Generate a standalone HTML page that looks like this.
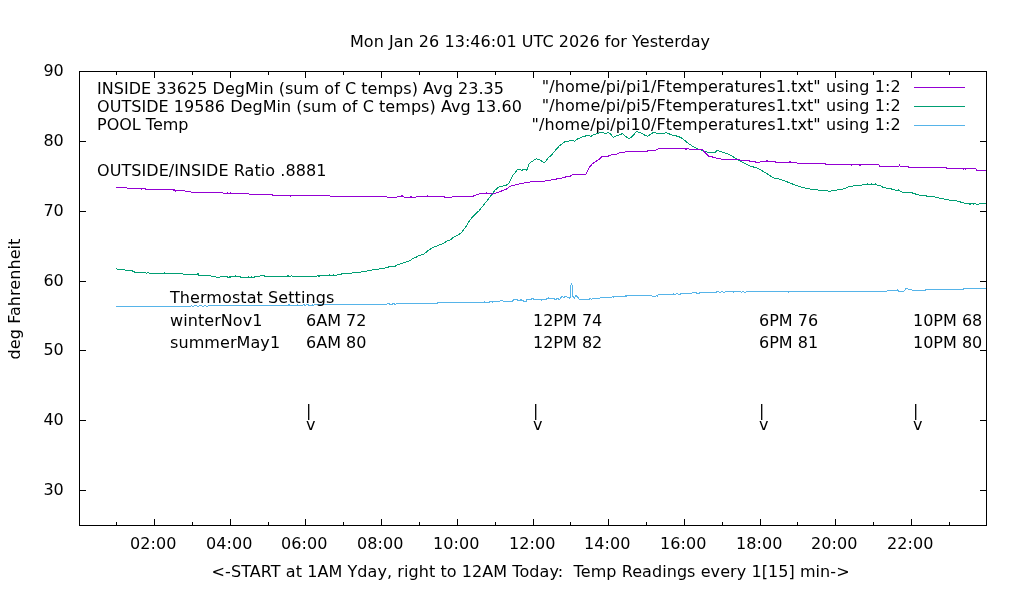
<!DOCTYPE html><html><head><meta charset="utf-8"><title>gnuplot</title><style>html,body{margin:0;padding:0;background:#fff;}svg{display:block;will-change:transform;}text{white-space:pre;}</style></head><body>
<svg width="1020" height="600" viewBox="0 0 1020 600">
<rect width="1020" height="600" fill="#fff"/>
<polyline fill="none" stroke="#56b4e9" stroke-width="1" stroke-linejoin="round" shape-rendering="crispEdges" points="116,306.4 190.8,306.4 191.2,305.4 193,306.4 196,305.4 198,306.4 200,305.4 203,306.4 205,305.4 207,306.4 209,305.4 211,305.4 288.6,305.4 289,304.4 290,305.4 297,305.4 297.5,304.4 298,305.4 303,305.4 303.5,304.4 305,305.4 308,304.4 309,305.4 312,305.4 312.5,304.4 313,305.4 315.5,304.4 386.7,304.4 387.2,303.4 389.5,303.4 390,304.4 392.5,304.4 393,303.4 394.5,303.4 395,304.4 396,304.4 396.3,303.4 437.6,303.4 438,302.4 484,302.4 484.4,301.5 484.9,302.4 489.6,302.4 490,301.4 492.2,301.4 492.5,302.4 492.9,301.4 500,301.4 500.2,300.4 502.7,300.4 503,301.4 512.2,301.4 512.5,300.4 513.7,300.4 514,299.5 517.2,299.5 517.5,300.4 520.1,300.4 520.4,299.5 521.7,299.5 522,300.4 523.5,300.4 523.7,301.4 526.2,301.4 526.5,299.5 531.5,299.5 531.8,298.4 533.3,298.4 533.6,299.5 541.3,299.5 541.6,300.4 542,299.5 546.2,299.5 546.5,298.4 548.2,298.4 548.4,297.5 548.7,298.4 554.5,298.4 555,299.4 556.5,299.4 557,298.4 558.5,298.4 559,299.4 560,299.4 560.5,298.4 561,297.5 562,296.5 563.5,297.5 565.5,296.5 567.5,297.3 569.5,298.5 570.5,296.6 570.5,286.5 571.5,283.5 572.5,286.5 572.5,296.5 573.5,297 574.5,298.3 576,295.5 578,297.5 579.5,299.3 589,299.3 590,298.5 592,299.3 593,298.3 600,298 601,297.3 603,297.9 605.5,297.9 606,297.2 612,297.2 612.5,296.4 614,297.2 615.5,296.4 625,296.4 625.3,295.5 625.8,296.4 627.6,295.3 651.5,295.3 652,296.3 656,296.3 656.5,295.3 657.2,296.3 658.2,294.4 673.2,294.4 673.5,293.5 675,294.4 677.5,293.5 679,294.4 680,294.4 681.2,293.5 691.8,293.5 692.3,292.4 696.5,292.4 697,293.4 699.5,293.4 700,292.4 716.5,292.4 717,291.4 720,292.3 722,291.4 724,292.3 726.6,291.4 733,291.4 733.4,292.3 733.8,291.4 740.7,291.4 741,292.3 743,291.4 745,292.3 748.4,291.4 788.2,291.4 788.5,292.3 788.8,291.4 886.7,291.3 887.2,290.3 896.8,290.3 897.1,289.4 897.6,290.3 898.6,291.3 903.8,291.3 906,288.5 909,289.4 911.7,289.4 912.2,290.3 914.7,290.3 915,291.3 915.5,290.3 925.1,290.3 925.4,289.4 926,289.4 963.6,289.4 964,288.3 986,288.3"/>
<polyline fill="none" stroke="#009e73" stroke-width="1" stroke-linejoin="round" shape-rendering="crispEdges" points="116,268.4 117,269.1 124.6,269.1 124.9,270 125.5,270.1 132,270.1 132.5,271.3 134,271.3 134.5,272.4 145.5,272.4 146,273.3 147,273.3 147.7,272.4 148.5,272.4 149.3,273.3 164.3,273.3 164.6,272.4 165,273.3 182.6,273.3 183,274.2 197.7,274.2 198,273.4 198.5,275.3 210.8,275.3 211.3,276.2 215.5,276.2 216,277.2 220,277.2 220.5,276.2 227.3,276.2 227.8,277.2 229.6,277.2 230,276.4 230.4,277.2 231,276.4 235,276.4 235.4,275.4 236,276.4 240,276.4 240.5,277.4 248.2,277.4 248.6,276.4 249,277.4 251.2,277.4 251.5,276.4 252,277.4 254.5,277.4 255,276.4 259.8,276.4 260.3,275.4 263.9,275.4 264.5,276.4 287.4,276.4 288,275.4 289,276.4 291,276.4 291.5,275.4 292.5,276.4 316.8,276.4 317.5,275.4 319,276.4 320.4,275.4 329.3,275.4 329.6,274.4 330,275.4 333.6,275.4 333.9,274.4 334.3,275.4 340,274.4 343.5,273.5 358.2,272.6 363.5,271.5 369.4,270.6 375.3,269.4 382.4,268.6 387,267.4 390.6,266.5 395.3,266.2 397.6,264.7 401.2,263.5 405.9,262.1 409.4,260.8 412.9,258.6 416.5,257.1 418.8,255.5 422.4,254.7 424.7,253.5 428.5,250.3 433.2,247.4 439,245.1 443.7,243.3 447.7,240.4 450.7,239.8 453,237.5 457.7,235.4 461.2,232.8 465.8,227 469.9,220 474,215.3 478.6,211.2 481,208.3 485.1,203.1 489.1,198.1 492.1,194.3 495,190.2 498.5,187.3 502,186.2 505,185.6 507.8,184.5 509.7,182.2 511.1,178.5 512.9,175.3 514.7,173.5 517,169.8 518.9,169.4 521.6,170.3 523.9,169.5 526.7,170.3 528.9,164.3 531.7,161.6 536.3,158.8 539,159.3 544.5,162.9 548.2,157.9 551.9,154.7 555.6,150.1 559.2,146 562,144 565.1,141.6 572.7,140.5 574.6,141.2 577.8,138.8 582.9,136.8 586.8,135.6 591.2,136.2 593.8,134.6 600.8,132.6 603.3,132.4 605.2,133.9 608.4,132.4 610.3,133.9 613.5,137.4 616.7,135.8 622.4,133.7 628.8,138.8 632.6,136.2 636.4,131.4 640.3,132.6 645.4,135.6 647.9,136.2 653,132.6 658.1,133.3 663.2,133.9 666.4,132.6 670.8,134.6 678.5,136.5 682.3,138.4 687.2,142.6 692.9,146.5 697.6,148.8 703.5,150.9 707.1,152.1 715.3,152.1 717.1,150.4 721.2,151.8 727.1,153.5 730.6,155.1 736.5,158.8 742.4,162.4 750,166.1 755.9,167.6 761.8,170.6 767.6,174.1 773.5,177.9 778.2,178.8 785.3,181.2 790,182.9 794.7,184.9 801.8,187.3 808.8,188.8 820.6,190.4 830,191.2 834.7,190.4 844.1,188.8 848.8,186.5 855.9,185.6 867.6,184.5 867.15,184.5 867.6,183.5 868.05,184.5 871.05,184.696 871.5,183.696 871.95,184.696 874.85,184.896 875.3,183.896 875.75,184.896 880.4,185.2 882.9,187.4 893.1,189.3 896.9,191 897.75,190.8 898.2,189.8 898.65,190.8 899.5,190.6 902,192.2 912.2,192.9 919.9,195.4 933.9,196.7 946.6,199.7 956.8,201 964.5,203.1 969.55,203.557 970,204.557 970.45,203.557 972.95,203.803 973.4,204.803 973.85,203.803 975.9,204 979,204.2 980,203.3 986,203.3"/>
<polyline fill="none" stroke="#9400d3" stroke-width="1" stroke-linejoin="round" shape-rendering="crispEdges" points="116,187.5 126.7,187.7 127.5,188.4 140.85,188.479 141.3,189.479 141.75,188.479 145,188.5 146,189.3 172.85,189.399 173.3,190.399 173.75,189.399 173.5,189.4 175,190.3 174.75,190.3 175.2,191.3 175.65,190.3 184.5,190.3 185.5,191.3 190.4,191.4 191.5,192.4 222.7,192.4 223.5,193.3 226.95,193.3 227.4,192.3 227.85,193.3 229.85,193.3 230.3,192.3 230.75,193.3 248,193.3 249,194.1 271.8,194.2 272.5,195.1 290.05,195.1 290.5,196.1 290.95,195.1 329,195.1 330,196.3 386,196.3 387,197.3 397,197.3 398,196.3 401.55,196.3 402,195.3 402.45,196.3 403,196.3 404,197.3 410.55,197.3 411,196.3 411.45,197.3 415.7,197.3 416.5,196.3 427,196.3 427.3,195.3 427.7,196.3 444.2,196.3 444.6,197.2 451.8,197.2 452.2,196.3 472.8,196.3 476.3,194.9 480.4,193.4 486.3,193.4 486.6,192.4 487,193.4 490.3,193.4 492.6,194.1 497.3,192.6 505,189.7 506.5,189.1 509.7,186.3 513.3,185.4 520.7,183.6 531.7,181.7 543.6,181.3 551.9,179.9 559.2,178.5 565,177.3 566.6,176.2 570.5,176.1 573.2,174.3 585.8,174.3 587.4,171.4 589.3,167.5 591.3,165.1 592.5,163.5 594.8,162.4 597.2,160.4 599.5,159.2 601.5,156.9 608.1,156.2 611.3,154.7 616,154.3 619.9,152.5 627.7,151.8 636.4,151.6 647.1,151.4 647.5,150.6 655.9,150.6 656.5,149.4 660,148.5 683.5,148.5 685.55,148.746 686,149.746 686.45,148.746 690.6,149.2 702.4,149.4 704.1,151.8 708.8,156.2 712.9,157.1 716.5,158.2 722.4,159.2 737.6,159.8 749.4,160.9 750,161.4 755,161.4 755.5,162.1 760,162.1 760.5,161.4 766.55,161.4 767,160.4 767.45,161.4 775.5,161.4 776,162.4 789.55,162.4 790,161.4 790.45,162.4 796.8,162.4 797.3,163.3 825,163.3 825.5,164.4 851,164.4 851.5,164.7 851.05,164.7 851.5,165.7 851.95,164.7 860,164.8 859.55,164.8 860,165.8 860.45,164.8 879,164.8 879.5,166 888.85,166 889.3,167 889.75,166 899.05,166 899.5,165 899.95,166 908.2,166 908.7,167.3 946.4,167.3 946.9,168.4 963.55,168.4 964,169.4 964.45,168.4 965.55,168.4 966,169.4 966.45,168.4 975.7,168.4 976.5,170.2 986,170.2"/>
<g stroke-width="1" shape-rendering="crispEdges">
<path d="M914,87.5H965" stroke="#9400d3"/>
<path d="M914,106.5H965" stroke="#009e73"/>
<path d="M914,125.5H965" stroke="#56b4e9"/>
</g>
<g stroke="#000" stroke-width="1" fill="none" shape-rendering="crispEdges">
<path d="M79.5,71.5H986.5V525.5H79.5Z"/>
<path d="M79.5,490.5h6M986.5,490.5h-7M79.5,420.5h6M986.5,420.5h-7M79.5,350.5h6M986.5,350.5h-7M79.5,281.5h6M986.5,281.5h-7M79.5,211.5h6M986.5,211.5h-7M79.5,141.5h6M986.5,141.5h-7M116.5,525.5v-4M116.5,71.5v3M154.5,525.5v-7M154.5,71.5v6M192.5,525.5v-4M192.5,71.5v3M230.5,525.5v-7M230.5,71.5v6M268.5,525.5v-4M268.5,71.5v3M305.5,525.5v-7M305.5,71.5v6M343.5,525.5v-4M343.5,71.5v3M381.5,525.5v-7M381.5,71.5v6M419.5,525.5v-4M419.5,71.5v3M457.5,525.5v-7M457.5,71.5v6M495.5,525.5v-4M495.5,71.5v3M533.5,525.5v-7M533.5,71.5v6M570.5,525.5v-4M570.5,71.5v3M608.5,525.5v-7M608.5,71.5v6M646.5,525.5v-4M646.5,71.5v3M684.5,525.5v-7M684.5,71.5v6M722.5,525.5v-4M722.5,71.5v3M760.5,525.5v-7M760.5,71.5v6M797.5,525.5v-4M797.5,71.5v3M835.5,525.5v-7M835.5,71.5v6M873.5,525.5v-4M873.5,71.5v3M911.5,525.5v-7M911.5,71.5v6M949.5,525.5v-4M949.5,71.5v3"/>
</g>
<g font-family="DejaVu Sans, Liberation Sans, sans-serif" font-size="16" fill="#000">
<text x="530" y="47" text-anchor="middle" textLength="360.12" lengthAdjust="spacing">Mon Jan 26 13:46:01 UTC 2026 for Yesterday</text>
<text x="63.8" y="494.5" text-anchor="end">30</text>
<text x="63.8" y="424.5" text-anchor="end">40</text>
<text x="63.8" y="354.5" text-anchor="end">50</text>
<text x="63.8" y="285.5" text-anchor="end">60</text>
<text x="63.8" y="215.5" text-anchor="end">70</text>
<text x="63.8" y="145.5" text-anchor="end">80</text>
<text x="63.8" y="75.5" text-anchor="end">90</text>
<text x="153.2" y="549" text-anchor="middle" textLength="46.43" lengthAdjust="spacing">02:00</text>
<text x="229.2" y="549" text-anchor="middle" textLength="46.43" lengthAdjust="spacing">04:00</text>
<text x="304.2" y="549" text-anchor="middle" textLength="46.43" lengthAdjust="spacing">06:00</text>
<text x="380.2" y="549" text-anchor="middle" textLength="46.43" lengthAdjust="spacing">08:00</text>
<text x="456.2" y="549" text-anchor="middle" textLength="46.43" lengthAdjust="spacing">10:00</text>
<text x="532.2" y="549" text-anchor="middle" textLength="46.43" lengthAdjust="spacing">12:00</text>
<text x="607.2" y="549" text-anchor="middle" textLength="46.43" lengthAdjust="spacing">14:00</text>
<text x="683.2" y="549" text-anchor="middle" textLength="46.43" lengthAdjust="spacing">16:00</text>
<text x="759.2" y="549" text-anchor="middle" textLength="46.43" lengthAdjust="spacing">18:00</text>
<text x="834.2" y="549" text-anchor="middle" textLength="46.43" lengthAdjust="spacing">20:00</text>
<text x="910.2" y="549" text-anchor="middle" textLength="46.43" lengthAdjust="spacing">22:00</text>
<text x="530.6" y="577" text-anchor="middle" textLength="637.97" lengthAdjust="spacing">&lt;-START at 1AM Yday, right to 12AM Today:  Temp Readings every 1[15] min-&gt;</text>
<text x="97" y="94" textLength="406.97" lengthAdjust="spacing">INSIDE 33625 DegMin (sum of C temps) Avg 23.35</text>
<text x="97" y="112" textLength="424.86" lengthAdjust="spacing">OUTSIDE 19586 DegMin (sum of C temps) Avg 13.60</text>
<text x="97" y="130">POOL Temp</text>
<text x="97" y="176" textLength="229.35" lengthAdjust="spacing">OUTSIDE/INSIDE Ratio .8881</text>
<text x="900.6" y="92" text-anchor="end" textLength="358.76" lengthAdjust="spacing">"/home/pi/pi1/Ftemperatures1.txt" using 1:2</text>
<text x="900.6" y="111" text-anchor="end" textLength="358.76" lengthAdjust="spacing">"/home/pi/pi5/Ftemperatures1.txt" using 1:2</text>
<text x="900.6" y="130" text-anchor="end" textLength="369.03" lengthAdjust="spacing">"/home/pi/pi10/Ftemperatures1.txt" using 1:2</text>
<text x="170" y="303" textLength="164.29" lengthAdjust="spacing">Thermostat Settings</text>
<text x="170" y="326" textLength="92.42" lengthAdjust="spacing">winterNov1</text>
<text x="170" y="348" textLength="110.09" lengthAdjust="spacing">summerMay1</text>
<text x="306" y="326">6AM 72</text>
<text x="306" y="348">6AM 80</text>
<text x="306" y="416">|</text>
<text x="306" y="430">v</text>
<text x="533" y="326">12PM 74</text>
<text x="533" y="348">12PM 82</text>
<text x="533" y="416">|</text>
<text x="533" y="430">v</text>
<text x="759" y="326">6PM 76</text>
<text x="759" y="348">6PM 81</text>
<text x="759" y="416">|</text>
<text x="759" y="430">v</text>
<text x="913" y="326">10PM 68</text>
<text x="913" y="348">10PM 80</text>
<text x="913" y="416">|</text>
<text x="913" y="430">v</text>
<text transform="translate(20,299) rotate(-90)" text-anchor="middle" textLength="120.75" lengthAdjust="spacing">deg Fahrenheit</text>
</g>
</svg></body></html>
